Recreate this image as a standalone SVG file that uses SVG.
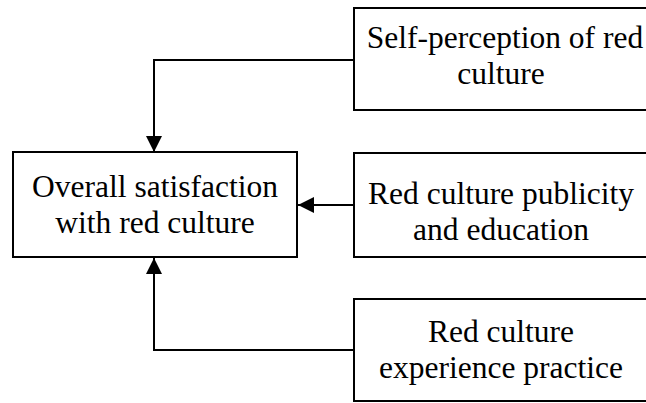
<svg xmlns="http://www.w3.org/2000/svg" width="646" height="403" viewBox="0 0 646 403">
<style>
.box{fill:#fff;stroke:#000;stroke-width:2}
.t{font-family:'Liberation Serif','Times New Roman',serif;font-size:31.5px;fill:#000;text-anchor:middle}
.c{fill:none;stroke:#000;stroke-width:2}
</style>
<defs>
<marker id="ah" markerWidth="16" markerHeight="16" refX="16" refY="8" orient="auto" markerUnits="userSpaceOnUse">
<path d="M0,0 L16,8 L0,16 Z" fill="#000"/>
</marker>
</defs>
<rect width="646" height="403" fill="#fff"/>
<g id="connectors">
<path class="c" d="M354,60 H154 V152" marker-end="url(#ah)"/>
<path class="c" d="M354,205 H298" marker-end="url(#ah)"/>
<path class="c" d="M354,350 H154 V258" marker-end="url(#ah)"/>
</g>
<g id="main">
<rect class="box" x="13" y="152" width="284" height="105"/>
<text class="t" x="155" y="197">Overall satisfaction</text>
<text class="t" x="155" y="233">with red culture</text>
</g>
<g id="self">
<rect class="box" x="354" y="8" width="294" height="102"/>
<text class="t" x="505" y="48">Self-perception of red</text>
<text class="t" x="501" y="84">culture</text>
</g>
<g id="publicity">
<rect class="box" x="354" y="153" width="294" height="104"/>
<text class="t" x="501" y="204">Red culture publicity</text>
<text class="t" x="501" y="240">and education</text>
</g>
<g id="experience">
<rect class="box" x="354" y="299" width="294" height="102"/>
<text class="t" x="501" y="342">Red culture</text>
<text class="t" x="501" y="378">experience practice</text>
</g>
</svg>
